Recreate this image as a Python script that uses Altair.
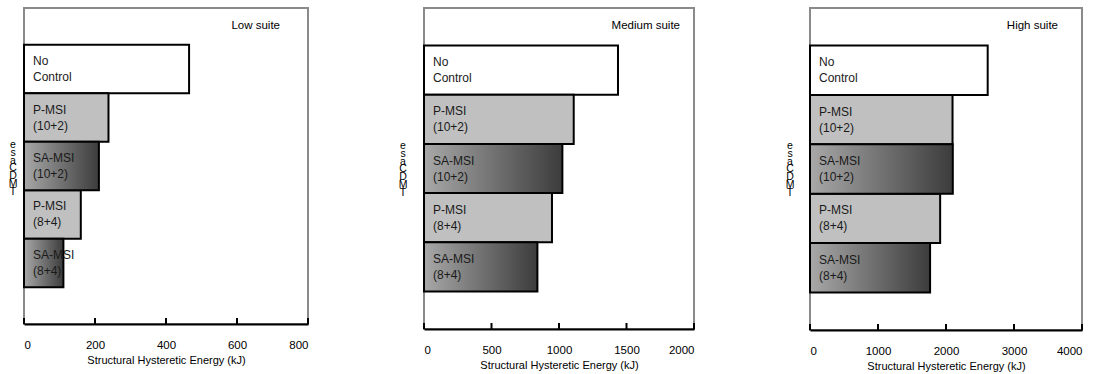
import altair as alt
import pandas as pd

categories = ["No Control", "P-MSI (10+2)", "SA-MSI (10+2)", "P-MSI (8+4)", "SA-MSI (8+4)"]
bar_labels = ["No\nControl", "P-MSI\n(10+2)", "SA-MSI\n(10+2)", "P-MSI\n(8+4)", "SA-MSI\n(8+4)"]
kinds = ["none", "passive", "semi", "passive", "semi"]

low_values = [465, 238, 211, 160, 111]
medium_values = [1437, 1109, 1025, 948, 840]
high_values = [2613, 2096, 2100, 1914, 1766]

suite_names = ["Low suite", "Medium suite", "High suite"]
x_maxima = [800, 2000, 4000]
tick_values = [[0, 200, 400, 600, 800], [0, 500, 1000, 1500, 2000], [0, 1000, 2000, 3000, 4000]]
x_title = "Structural Hysteretic Energy (kJ)"
y_title_lines = "e\ns\na\nC\nD\nM\nT"

FONT = "Liberation Sans"

panel_widths = [284, 270, 272]
panel_heights = [316, 321, 322]
suite_right_offsets = [28, 14, 24]
ytitle_x = [-11, -21, -20]
ytitle_y = [137, 138, 138]

gradient = alt.Gradient(
    gradient="linear",
    stops=[alt.GradientStop(color="#a8a8a8", offset=0),
           alt.GradientStop(color="#3c3c3c", offset=1)],
    x1=0, x2=1, y1=0, y2=0,
)
fills = {"none": "#ffffff", "passive": "#c0c0c0", "semi": gradient}


def panel(values, suite, xmax, ticks, w, h, roff, ytx, yty):
    df = pd.DataFrame({"case": categories, "label": bar_labels, "kind": kinds, "energy": values})
    xscale = alt.Scale(domain=[0, xmax], nice=False, zero=True)
    yscale = alt.Scale(domain=categories, paddingInner=0, paddingOuter=0.76)
    xenc = alt.X("energy:Q", scale=xscale,
                 axis=alt.Axis(values=ticks, title=x_title, grid=False, ticks=False, tickSize=0,
                               format="d",
                               domainColor="#000000", domainWidth=2.2, labelPadding=15,
                               labelFont=FONT, labelFontSize=11.5, labelColor="#000000",
                               titleFont=FONT, titleFontSize=11, titleFontWeight="normal",
                               titleColor="#000000", titlePadding=4))
    yenc = alt.Y("case:N", scale=yscale, axis=None, sort=categories)

    layers = []
    for k in ["none", "passive", "semi"]:
        layers.append(
            alt.Chart(df).transform_filter(alt.datum.kind == k)
            .mark_bar(fill=fills[k], stroke="#000000", strokeWidth=2)
            .encode(x=xenc, y=yenc)
        )
    labels = alt.Chart(df).mark_text(
        align="left", baseline="middle", lineBreak="\n", lineHeight=16,
        font=FONT, fontSize=12, color="#1a1a1a", dx=9, dy=-8,
    ).encode(x=alt.value(0), y=yenc, text="label:N")

    tdf = pd.DataFrame({"t": ticks})
    tick_rules = alt.Chart(tdf).mark_rule(color="#000000", strokeWidth=2).encode(
        x=alt.X("t:Q", scale=xscale), y=alt.value(h), y2=alt.value(h - 6)
    )
    one = pd.DataFrame({"s": [suite], "yt": [y_title_lines]})
    suite_text = alt.Chart(one).mark_text(
        align="right", baseline="middle", font=FONT, fontSize=11.5, color="#000000"
    ).encode(x=alt.value(w - roff), y=alt.value(18), text="s:N")
    ytitle = alt.Chart(one).mark_text(
        align="center", baseline="middle", lineBreak="\n", lineHeight=7.8,
        font=FONT, fontSize=10.5, color="#000000"
    ).encode(x=alt.value(ytx), y=alt.value(yty), text="yt:N")

    return alt.layer(*layers, tick_rules, labels, suite_text, ytitle).properties(width=w, height=h)


panels = []
for i, vals in enumerate([low_values, medium_values, high_values]):
    panels.append(panel(vals, suite_names[i], x_maxima[i], tick_values[i],
                        panel_widths[i], panel_heights[i], suite_right_offsets[i],
                        ytitle_x[i], ytitle_y[i]))

chart = alt.hconcat(*panels, spacing=116, bounds="flush").properties(
    padding={"left": 7, "top": 7, "right": 5, "bottom": 2},
    background="#ffffff",
).configure_view(stroke="#8a8a8a", strokeWidth=2)

chart.save("out.html", embed_options={"renderer": "svg", "actions": False})
